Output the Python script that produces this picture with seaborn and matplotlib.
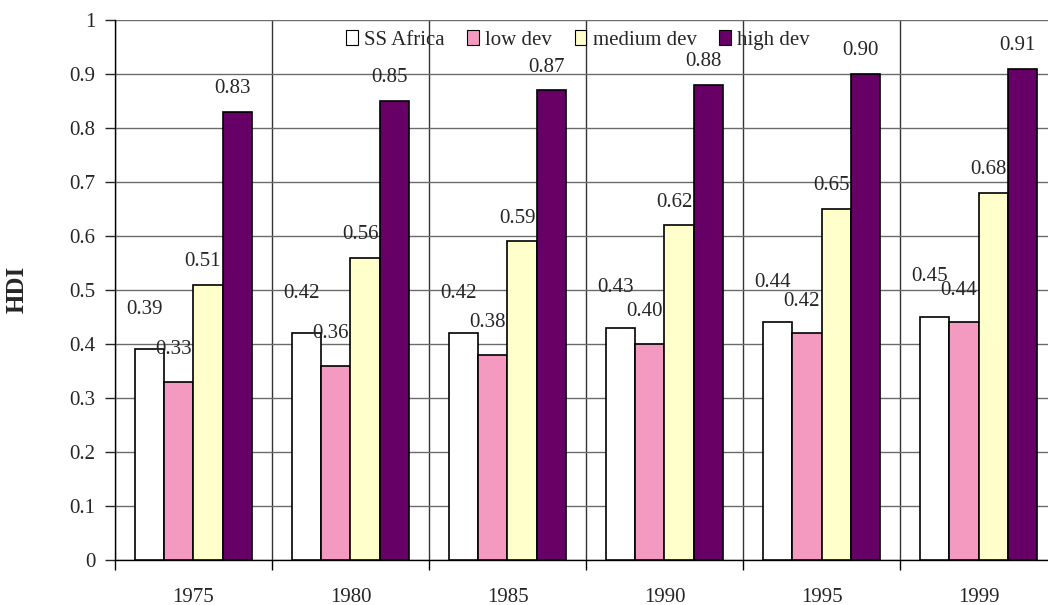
import pandas as pd
import matplotlib.pyplot as plt
import seaborn as sns

# values
years = ['1975', '1980', '1985', '1990', '1995', '1999']
series = ['SS Africa', 'low dev', 'medium dev', 'high dev']
ss_africa = [0.39, 0.42, 0.42, 0.43, 0.44, 0.45]
low_dev = [0.33, 0.36, 0.38, 0.40, 0.42, 0.44]
medium_dev = [0.51, 0.56, 0.59, 0.62, 0.65, 0.68]
high_dev = [0.83, 0.85, 0.87, 0.88, 0.90, 0.91]

colors = ['#FFFFFF', '#F49AC1', '#FFFFCC', '#660066']
# vertical offset (pixels) of each series' value labels above the bar top
label_lift = [40, 32, 23, 23]

sns.set_style('white')
plt.rcParams['font.family'] = ['Liberation Serif', 'DejaVu Serif']

values = [ss_africa, low_dev, medium_dev, high_dev]
df = pd.DataFrame({
    'year': years * len(series),
    'series': [s for s in series for _ in years],
    'hdi': [v for vals in values for v in vals],
})

fig = plt.figure(figsize=(10.48, 6.05), dpi=100)
# axes runs slightly past the right edge, as in the cropped original
ax = fig.add_axes([0.1097, 0.0744, 0.8989, 0.8926])

sns.barplot(data=df, x='year', y='hdi', hue='series', order=years,
            hue_order=series, palette=colors, edgecolor='black',
            linewidth=1.2, width=0.74, saturation=1, ax=ax, zorder=3)

ax.set_ylim(0, 1)
ax.set_xlim(-0.5, len(years) - 0.5)
ax.set_yticks([i / 10 for i in range(11)])
ax.set_yticklabels(['0'] + [f'{i / 10:g}' for i in range(1, 10)] + ['1'])
ax.set_xticks(range(len(years)))
ax.set_xticklabels(years)
ax.set_xticks([i - 0.5 for i in range(len(years) + 1)], minor=True)

ax.tick_params(axis='x', which='major', length=0, pad=20, labelsize=15)
ax.tick_params(axis='x', which='minor', length=7, width=1, color='black',
               direction='out', bottom=True)
ax.tick_params(axis='y', length=7, width=1, direction='out', left=True,
               pad=7, labelsize=15)

ax.grid(axis='y', color='#6b6b6b', linewidth=1, zorder=0)
ax.grid(axis='x', which='minor', color='#333333', linewidth=1, zorder=0)
ax.set_axisbelow(True)

for side in ['top', 'right']:
    ax.spines[side].set_visible(False)
for side in ['left', 'bottom']:
    ax.spines[side].set_color('black')
    ax.spines[side].set_linewidth(1)

ax.set_xlabel('')
ax.set_ylabel('')
fig.text(17 / 1048, 1 - 289 / 605, 'HDI', rotation=90, ha='center',
         va='center', fontsize=18, fontweight='bold')

# value labels above each bar
for container, vals, lift in zip(ax.containers, values, label_lift):
    for bar, v in zip(container, vals):
        ax.annotate(f'{v:.2f}', (bar.get_x() + bar.get_width() / 2, v),
                    xytext=(-5, lift), textcoords='offset pixels',
                    ha='center', va='center', fontsize=15, zorder=4)

handles = [plt.Rectangle((0, 0), 1, 1, facecolor=c, edgecolor='black',
                         linewidth=0.8) for c in colors]
ax.legend(handles, series, loc='center', bbox_to_anchor=(578 / 1048, 1 - 40 / 605),
          bbox_transform=fig.transFigure, ncol=4, frameon=False, fontsize=15,
          handlelength=0.55, handleheight=0.7, handletextpad=0.3,
          columnspacing=1.1, borderaxespad=0)

fig.savefig('out.png', dpi=100)
